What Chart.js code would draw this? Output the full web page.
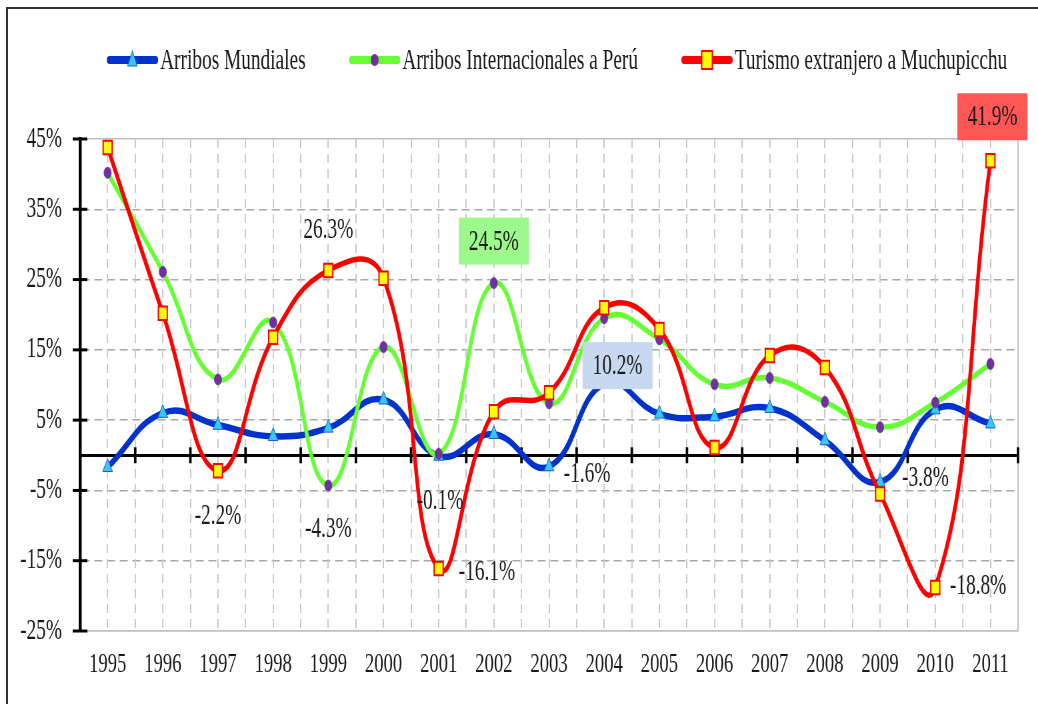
<!DOCTYPE html>
<html>
<head>
<meta charset="utf-8">
<script src="https://cdn.jsdelivr.net/npm/chart.js@4.4.0/dist/chart.umd.min.js"></script>
<style>
  html, body { margin: 0; padding: 0; background: #fff; overflow: hidden; }
  #wrap { width: 1557px; height: 704px; transform: scaleX(0.666667); transform-origin: 0 0; }
</style>
</head>
<body>
<div id="wrap"><canvas id="c" width="1557" height="704"></canvas></div>
<script>
// ---------------- data ----------------
const years = ['1995','1996','1997','1998','1999','2000','2001','2002','2003','2004','2005','2006','2007','2008','2009','2010','2011'];
const arribosMundiales = [-1.7, 6.0, 4.3, 2.7, 3.9, 7.9, -0.1, 3.0, -1.6, 10.2, 5.9, 5.5, 6.7, 2.1, -3.8, 6.5, 4.5];
const arribosPeru      = [40.2, 26.1, 10.8, 18.9, -4.3, 15.4, 0.2, 24.5, 7.4, 19.5, 16.5, 10.1, 11.0, 7.6, 4.0, 7.5, 13.0];
const turismoMachu     = [43.8, 20.2, -2.2, 16.8, 26.3, 25.2, -16.1, 6.2, 8.9, 21.0, 17.9, 1.1, 14.2, 12.5, -5.5, -18.8, 41.9];
const seriesNames = ['Arribos Mundiales', 'Arribos Internacionales a Perú', 'Turismo extranjero a Muchupicchu'];
const yMin = -25, yMax = 45, yStep = 10;

// labelled points: dataset index, point index (text comes from the value)
const callouts = [
  { ds: 2, i: 4,  dx: 0,  dy: -41, align: 'center' },
  { ds: 1, i: 7,  dx: 0,  dy: -42, align: 'center', box: '#9cf98c' },
  { ds: 0, i: 9,  dx: 20, dy: -18, align: 'center', box: '#c6d9f0' },
  { ds: 2, i: 16, dx: 3,  dy: -44, align: 'center', box: '#ff5656' },
  { ds: 2, i: 2,  dx: 0,  dy: 45,  align: 'center' },
  { ds: 1, i: 4,  dx: 0,  dy: 43,  align: 'center' },
  { ds: 0, i: 6,  dx: 2,  dy: 44,  align: 'center' },
  { ds: 2, i: 6,  dx: 30, dy: 3,   align: 'left' },
  { ds: 0, i: 8,  dx: 22, dy: 7,   align: 'left' },
  { ds: 0, i: 14, dx: 33, dy: -5,  align: 'left' },
  { ds: 2, i: 15, dx: 22, dy: -2,  align: 'left' }
];

Chart.defaults.font.family = '"Liberation Serif", "Times New Roman", serif';
const TXT = '#1a1a1a';

function drawMarker(ctx, type, x, y) {
  ctx.save();
  if (type === 'triangle') {
    ctx.fillStyle = '#38c8f5'; ctx.strokeStyle = '#1060d0'; ctx.lineWidth = 1;
    ctx.beginPath(); ctx.moveTo(x, y - 9); ctx.lineTo(x + 7, y + 6); ctx.lineTo(x - 7, y + 6); ctx.closePath();
    ctx.fill(); ctx.stroke();
  } else if (type === 'circle') {
    ctx.fillStyle = '#7030a0';
    ctx.beginPath(); ctx.arc(x, y, 6, 0, Math.PI * 2); ctx.fill();
  } else {
    ctx.fillStyle = '#ffff00'; ctx.strokeStyle = '#ff0000'; ctx.lineWidth = 2;
    ctx.fillRect(x - 8, y - 9, 16, 18); ctx.strokeRect(x - 8, y - 9, 16, 18);
  }
  ctx.restore();
}

const decor = {
  id: 'decor',
  beforeDraw(chart) {
    const ctx = chart.ctx;
    ctx.save();
    ctx.fillStyle = '#fff'; ctx.fillRect(0, 0, chart.width, chart.height);
    ctx.strokeStyle = '#333';
    ctx.lineWidth = 3;
    ctx.beginPath(); ctx.moveTo(10.5, chart.height); ctx.lineTo(10.5, 8); ctx.stroke();
    ctx.lineWidth = 2;
    ctx.beginPath(); ctx.moveTo(9, 8); ctx.lineTo(chart.width, 8); ctx.stroke();
    ctx.restore();
  },
  beforeDatasetsDraw(chart) {
    const ctx = chart.ctx, xs = chart.scales.x, ys = chart.scales.y;
    const zero = ys.getPixelForValue(0);
    ctx.save();
    ctx.strokeStyle = '#000';
    ctx.lineWidth = 3.75;
    for (let i = 0; i < years.length; i++) {
      const px = xs.getPixelForValue(i + 0.5);
      ctx.beginPath(); ctx.moveTo(px, zero - 8); ctx.lineTo(px, zero + 8); ctx.stroke();
    }
    ctx.lineWidth = 3;
    ys.ticks.forEach(t => {
      const py = ys.getPixelForValue(t.value);
      ctx.beginPath(); ctx.moveTo(ys.right - 11, py); ctx.lineTo(ys.right + 11, py); ctx.stroke();
    });
    ctx.restore();
  },
  afterDatasetsDraw(chart) {
    const ctx = chart.ctx;
    ctx.save();
    ctx.font = '29px "Liberation Serif"';
    ctx.textBaseline = 'middle';
    callouts.forEach(c => {
      const pt = chart.getDatasetMeta(c.ds).data[c.i];
      const val = chart.data.datasets[c.ds].data[c.i];
      const txt = val.toFixed(1) + '%';
      const cx = pt.x + c.dx, cy = pt.y + c.dy;
      if (c.box) {
        ctx.fillStyle = c.box;
        ctx.fillRect(cx - 52.5, cy - 23.5, 105, 47);
      }
      ctx.fillStyle = TXT;
      ctx.textAlign = c.align;
      ctx.fillText(txt, cx, cy + 1);
    });
    // legend
    const ds = chart.data.datasets;
    const lineLen = 75, gapT = 4, gapI = 66, cy = 60;
    const widths = ds.map(d => lineLen + gapT + ctx.measureText(d.label).width);
    const total = widths.reduce((a, b) => a + b, 0) + gapI * (ds.length - 1);
    let x = 836 - total / 2;
    ds.forEach((d, k) => {
      ctx.strokeStyle = d.borderColor;
      ctx.lineWidth = 8;
      ctx.lineCap = 'round';
      ctx.beginPath(); ctx.moveTo(x + 3, cy); ctx.lineTo(x + lineLen - 3, cy); ctx.stroke();
      drawMarker(ctx, d.pointStyle, x + lineLen / 2, cy);
      ctx.fillStyle = TXT;
      ctx.textAlign = 'left';
      ctx.fillText(d.label, x + lineLen + gapT, cy + 1);
      x += widths[k] + gapI;
    });
    ctx.restore();
  }
};

const edgeY = c => c.tick && (c.tick.value === yMin || c.tick.value === yMax);
const edgeX = c => c.index === undefined || c.index === 0;

new Chart(document.getElementById('c'), {
  type: 'line',
  data: {
    labels: years,
    datasets: [
      { label: seriesNames[0], data: arribosMundiales, order: 3,
        borderColor: '#0033cc', borderWidth: 6.5, pointStyle: 'triangle', pointRadius: 8.5,
        pointBackgroundColor: '#38c8f5', pointBorderColor: '#1060d0', pointBorderWidth: 1 },
      { label: seriesNames[1], data: arribosPeru, order: 2,
        borderColor: '#66ff33', borderWidth: 5.5, pointStyle: 'circle', pointRadius: 5.5,
        pointBackgroundColor: '#7030a0', pointBorderColor: '#7a40a8', pointBorderWidth: 1 },
      { label: seriesNames[2], data: turismoMachu, order: 1,
        borderColor: '#ff0000', borderWidth: 5.5, pointStyle: 'rect', pointRadius: 9.5,
        pointBackgroundColor: '#ffff00', pointBorderColor: '#ff0000', pointBorderWidth: 2 }
    ]
  },
  options: {
    responsive: false,
    animation: false,
    devicePixelRatio: 1,
    layout: { padding: { top: 139, right: 30, bottom: 0, left: 0 } },
    plugins: { legend: { display: false }, tooltip: { enabled: false } },
    elements: { line: { tension: 0.45, fill: false } },
    scales: {
      y: {
        type: 'linear', min: yMin, max: yMax,
        afterFit(s) { s.width = 120; },
        ticks: { stepSize: yStep, callback: v => v + '%', font: { size: 29 }, color: TXT, padding: 27 },
        grid: { drawTicks: false, lineWidth: 1.5, color: c => edgeY(c) ? '#c0c0c0' : '#a8a8a8' },
        border: { display: true, color: '#000', width: 4.5, dash: c => edgeY(c) ? [] : [12, 7] }
      },
      x: {
        type: 'category', position: 'bottom', offset: true,
        afterFit(s) { s.height = 73; },
        ticks: { font: { size: 28 }, color: TXT, padding: 17, autoSkip: false, maxRotation: 0 },
        grid: { offset: true, drawTicks: false, lineWidth: 2, color: c => edgeX(c) ? '#c0c0c0' : '#cacaca' },
        border: { display: true, color: '#c0c0c0', width: 1.5, dash: c => edgeX(c) ? [] : [9, 6] }
      },
      x2: {
        type: 'category', axis: 'x', labels: years, position: { y: 0 }, offset: true,
        ticks: { display: false },
        grid: { offset: false, drawTicks: false, lineWidth: 2, color: '#cacaca' },
        border: { display: true, color: '#000', width: 3, dash: [9, 6] }
      }
    }
  },
  plugins: [decor]
});
</script>
</body>
</html>
